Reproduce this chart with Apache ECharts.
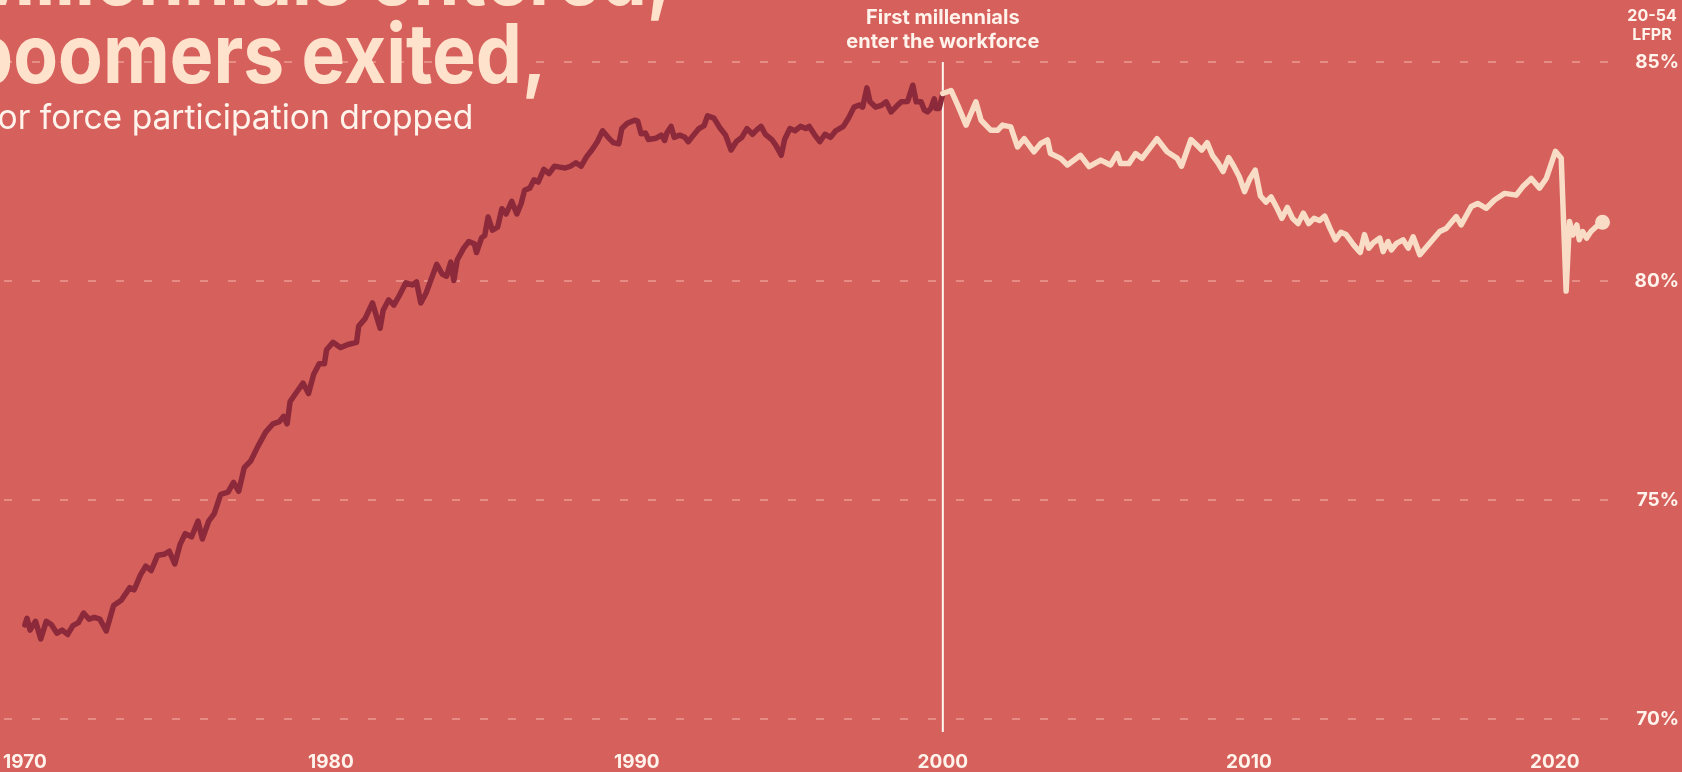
<!DOCTYPE html>
<html>
<head>
<meta charset="utf-8">
<script src="https://cdn.jsdelivr.net/npm/echarts@6/dist/echarts.min.js"></script>
<style>
html, body { margin: 0; padding: 0; background: #d6605b; }
#chart { width: 1682px; height: 772px; }
</style>
</head>
<body>
<div id="chart"></div>
<script>
// 20-54 labor force participation rate
var years = [
  1970.00, 1970.07, 1970.17, 1970.35, 1970.52, 1970.70, 1970.87, 1971.05, 1971.22, 1971.40,
  1971.57, 1971.75, 1971.92, 1972.10, 1972.27, 1972.45, 1972.66, 1972.90, 1973.15, 1973.43,
  1973.57, 1973.78, 1973.95, 1974.13, 1974.34, 1974.55, 1974.72, 1974.90, 1975.07, 1975.24,
  1975.45, 1975.66, 1975.80, 1976.01, 1976.19, 1976.40, 1976.64, 1976.82, 1976.99, 1977.17,
  1977.38, 1977.62, 1977.87, 1978.11, 1978.32, 1978.46, 1978.57, 1978.67, 1978.92, 1979.09,
  1979.27, 1979.44, 1979.62, 1979.79, 1979.86, 1980.07, 1980.31, 1980.56, 1980.84, 1980.91,
  1981.12, 1981.36, 1981.61, 1981.71, 1981.89, 1982.06, 1982.24, 1982.45, 1982.66, 1982.80,
  1982.94, 1983.11, 1983.29, 1983.46, 1983.64, 1983.78, 1983.92, 1984.02, 1984.13, 1984.34,
  1984.51, 1984.69, 1984.76, 1984.93, 1985.03, 1985.14, 1985.28, 1985.45, 1985.59, 1985.73,
  1985.91, 1986.08, 1986.22, 1986.33, 1986.50, 1986.64, 1986.78, 1986.96, 1987.13, 1987.31,
  1987.48, 1987.66, 1987.83, 1988.01, 1988.18, 1988.36, 1988.53, 1988.71, 1988.88, 1989.06,
  1989.23, 1989.41, 1989.51, 1989.69, 1989.93, 1990.03, 1990.14, 1990.28, 1990.38, 1990.63,
  1990.80, 1990.91, 1990.98, 1991.12, 1991.22, 1991.40, 1991.57, 1991.68, 1991.85, 1992.03,
  1992.20, 1992.31, 1992.52, 1992.73, 1992.90, 1993.08, 1993.25, 1993.43, 1993.60, 1993.78,
  1993.92, 1994.06, 1994.20, 1994.41, 1994.55, 1994.72, 1994.83, 1995.00, 1995.17, 1995.35,
  1995.52, 1995.63, 1995.80, 1995.98, 1996.15, 1996.33, 1996.50, 1996.75, 1996.92, 1997.10,
  1997.27, 1997.38, 1997.52, 1997.62, 1997.80, 1997.99, 1998.15, 1998.31, 1998.50, 1998.64,
  1998.85, 1999.02, 1999.13, 1999.29, 1999.40, 1999.50, 1999.61, 1999.72, 1999.78, 1999.88,
  2000.00, 2000.05, 2000.27, 2000.49, 2000.76, 2001.08, 2001.25, 2001.57, 2001.79, 2001.95,
  2002.22, 2002.44, 2002.66, 2002.98, 2003.20, 2003.42, 2003.52, 2003.85, 2004.07, 2004.50,
  2004.78, 2005.16, 2005.48, 2005.70, 2005.81, 2006.08, 2006.30, 2006.51, 2007.00, 2007.33,
  2007.66, 2007.80, 2008.11, 2008.29, 2008.46, 2008.64, 2008.81, 2008.99, 2009.16, 2009.34,
  2009.51, 2009.69, 2009.86, 2010.03, 2010.21, 2010.38, 2010.56, 2010.73, 2010.91, 2011.08,
  2011.26, 2011.43, 2011.61, 2011.78, 2011.96, 2012.13, 2012.31, 2012.48, 2012.66, 2012.83,
  2013.01, 2013.18, 2013.43, 2013.64, 2013.78, 2013.92, 2014.06, 2014.28, 2014.39, 2014.55,
  2014.66, 2014.83, 2015.04, 2015.21, 2015.37, 2015.59, 2015.91, 2016.24, 2016.45, 2016.78,
  2016.94, 2017.27, 2017.48, 2017.76, 2018.03, 2018.36, 2018.74, 2018.95, 2019.23, 2019.50,
  2019.72, 2020.02, 2020.21, 2020.37, 2020.48, 2020.59, 2020.72, 2020.80, 2020.91, 2021.04,
  2021.18, 2021.35, 2021.56
];
var lfpr = [
  72.15, 72.30, 72.03, 72.23, 71.83, 72.23, 72.15, 71.96, 72.03, 71.93,
  72.13, 72.20, 72.42, 72.28, 72.32, 72.28, 72.01, 72.59, 72.71, 73.00,
  72.95, 73.29, 73.49, 73.39, 73.74, 73.76, 73.83, 73.54, 73.98, 74.23,
  74.16, 74.52, 74.11, 74.52, 74.69, 75.13, 75.18, 75.40, 75.20, 75.74,
  75.89, 76.23, 76.55, 76.74, 76.79, 76.91, 76.74, 77.25, 77.50, 77.67,
  77.43, 77.87, 78.11, 78.11, 78.43, 78.60, 78.48, 78.55, 78.60, 78.97,
  79.14, 79.50, 78.92, 79.33, 79.57, 79.45, 79.67, 79.96, 79.91, 79.98,
  79.50, 79.72, 80.06, 80.38, 80.16, 80.11, 80.43, 80.01, 80.48, 80.75,
  80.90, 80.85, 80.65, 80.99, 81.04, 81.46, 81.16, 81.23, 81.65, 81.53,
  81.82, 81.53, 81.77, 82.07, 82.12, 82.31, 82.26, 82.55, 82.45, 82.62,
  82.60, 82.58, 82.62, 82.70, 82.62, 82.84, 82.99, 83.18, 83.43, 83.28,
  83.16, 83.13, 83.48, 83.60, 83.67, 83.65, 83.36, 83.38, 83.23, 83.26,
  83.33, 83.21, 83.38, 83.53, 83.28, 83.33, 83.28, 83.18, 83.33, 83.48,
  83.55, 83.77, 83.72, 83.48, 83.33, 82.99, 83.18, 83.28, 83.48, 83.35,
  83.45, 83.53, 83.35, 83.23, 83.09, 82.87, 83.23, 83.48, 83.43, 83.53,
  83.48, 83.53, 83.35, 83.18, 83.35, 83.28, 83.43, 83.53, 83.72, 83.97,
  84.02, 83.97, 84.41, 84.09, 83.97, 84.01, 84.09, 83.86, 84.00, 84.09,
  84.10, 84.47, 84.09, 84.09, 83.90, 83.86, 83.94, 84.16, 83.94, 83.94,
  84.28, 84.32, 84.35, 84.01, 83.56, 84.09, 83.67, 83.44, 83.44, 83.56,
  83.52, 83.06, 83.25, 82.95, 83.14, 83.22, 82.91, 82.80, 82.65, 82.87,
  82.61, 82.76, 82.65, 82.91, 82.68, 82.68, 82.91, 82.80, 83.25, 82.95,
  82.80, 82.62, 83.23, 83.11, 82.99, 83.16, 82.87, 82.70, 82.50, 82.82,
  82.62, 82.38, 82.04, 82.33, 82.53, 81.94, 81.80, 81.92, 81.68, 81.43,
  81.68, 81.43, 81.31, 81.55, 81.31, 81.43, 81.38, 81.48, 81.19, 80.94,
  81.11, 81.06, 80.82, 80.65, 81.06, 80.75, 80.87, 80.98, 80.67, 80.90,
  80.71, 80.86, 80.94, 80.75, 81.01, 80.60, 80.86, 81.13, 81.20, 81.47,
  81.28, 81.70, 81.77, 81.66, 81.85, 82.00, 81.96, 82.15, 82.34, 82.12,
  82.34, 82.96, 82.80, 79.77, 81.36, 81.05, 81.28, 80.94, 81.13, 80.98,
  81.13, 81.24, 81.34
];
var splitYear = 2000;
var yearTicks = [1970, 1980, 1990, 2000, 2010, 2020];
var pctTicks = [70, 75, 80, 85];

var bg = '#d6605b';
var dark = '#8c2a3b';
var cream = '#f8dcc6';
var labelColor = '#fff3ec';

var before = [], after = [];
for (var i = 0; i < years.length; i++) {
  if (years[i] <= splitYear) before.push([years[i], lfpr[i]]);
  if (years[i] >= splitYear) after.push([years[i], lfpr[i]]);
}
var last = after[after.length - 1];

var myChart = echarts.init(document.getElementById('chart'));

var option = {
  backgroundColor: bg,
  animation: false,
  grid: { left: 0, right: 65, top: 62, bottom: 48.5 },
  xAxis: {
    type: 'value',
    min: 1969.32,
    max: 2022,
    axisLine: { show: false },
    axisTick: { show: false },
    splitLine: { show: false },
    axisLabel: {
      customValues: yearTicks,
      margin: 34,
      color: labelColor,
      fontFamily: 'Inter',
      fontWeight: 'bold',
      fontSize: 19,
      formatter: function (v) { return String(v); }
    }
  },
  yAxis: {
    type: 'value',
    position: 'right',
    min: pctTicks[0],
    max: pctTicks[pctTicks.length - 1],
    interval: 5,
    axisLine: { show: false },
    axisTick: { show: false },
    splitLine: {
      lineStyle: { color: 'rgba(255,215,205,0.5)', width: 1.5, type: [8, 20] }
    },
    axisLabel: {
      align: 'right',
      margin: 63,
      color: labelColor,
      fontFamily: 'Inter',
      fontWeight: 'bold',
      fontSize: 19,
      formatter: '{value}%'
    }
  },
  series: [
    {
      name: 'boomers',
      type: 'line',
      data: before,
      showSymbol: false,
      lineStyle: { color: dark, width: 5.5, join: 'round', cap: 'round' },
      z: 3
    },
    {
      name: 'millennials',
      type: 'line',
      data: after,
      showSymbol: false,
      lineStyle: { color: cream, width: 5.5, join: 'round', cap: 'round' },
      z: 3
    },
    {
      name: 'latest',
      type: 'scatter',
      data: [last],
      symbolSize: 15,
      itemStyle: { color: cream, opacity: 1 },
      z: 4
    }
  ]
};

myChart.setOption(option);

// annotation line at the split year, placed from the axes' scales
var lineTop = myChart.convertToPixel({ gridIndex: 0 }, [splitYear, 85]);
var lineBottom = myChart.convertToPixel({ gridIndex: 0 }, [splitYear, 70]);
var rightEdge = myChart.convertToPixel({ gridIndex: 0 }, [2022, 85]);

myChart.setOption({
  graphic: [
    {
      type: 'line',
      shape: { x1: lineTop[0], y1: lineTop[1], x2: lineBottom[0], y2: lineBottom[1] + 13 },
      style: { stroke: '#fff8f2', lineWidth: 2 },
      z: 2
    },
    {
      type: 'text',
      x: lineTop[0], y: lineTop[1] - 32,
      style: {
        text: 'First millennials\nenter the workforce',
        fill: labelColor, font: 'bold 20px Inter', lineHeight: 24,
        textAlign: 'center', textVerticalAlign: 'middle'
      }
    },
    {
      type: 'text',
      x: rightEdge[0] + 36, y: 26,
      style: {
        text: '20-54\nLFPR',
        fill: labelColor, font: 'bold 16px Inter', lineHeight: 19,
        textAlign: 'center', textVerticalAlign: 'middle'
      }
    },
    {
      type: 'text', x: -33, y: -20, scaleX: 0.893,
      style: { text: 'Millennials entered,', fill: '#ffe2cc', font: 'bold 82px Inter', textVerticalAlign: 'middle' }
    },
    {
      type: 'text', x: -33, y: 58, scaleX: 0.893,
      style: { text: 'boomers exited,', fill: '#ffe2cc', font: 'bold 82px Inter', textVerticalAlign: 'middle' }
    },
    {
      type: 'text', x: -50, y: 119,
      style: { text: 'labor force participation dropped', fill: labelColor, font: '33.6px Inter', textVerticalAlign: 'middle' }
    }
  ]
});
</script>
</body>
</html>
